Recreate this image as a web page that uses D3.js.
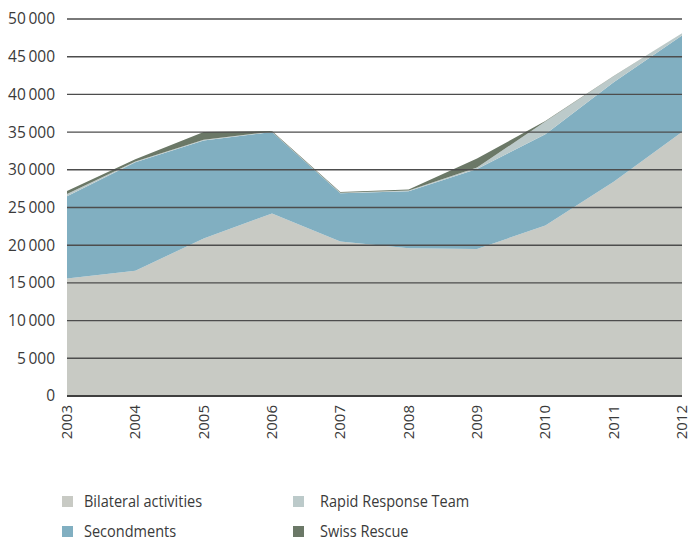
<!DOCTYPE html>
<html>
<head>
<meta charset="utf-8">
<script src="https://cdn.jsdelivr.net/npm/d3@7"></script>
<style>
  html, body { margin: 0; padding: 0; background: #fff; }
  svg { display: block; }
  text { font-family: "Open Sans", sans-serif; fill: #3a3a3a; }
</style>
</head>
<body>
<svg id="chart" width="690" height="541"></svg>
<script>
// Humanitarian aid staff days by activity, 2003–2012
const years = ["2003", "2004", "2005", "2006", "2007", "2008", "2009", "2010", "2011", "2012"];
const bilateral    = [15600, 16600, 20900, 24200, 20500, 19600, 19500, 22600, 28400, 35000];
const secondments  = [10900, 14400, 13000, 10800,  6400,  7550, 10600, 12100, 13200, 12800];
const rapidResponse = [ 300,   100,   100,    50,    50,   100,   200,  1700,   800,   300];
const swissRescue  = [  400,   300,  1000,   100,   100,   150,  1200,    60,    40,     0];
const yTicks = [0, 5000, 10000, 15000, 20000, 25000, 30000, 35000, 40000, 45000, 50000];

const seriesNames = ["Bilateral activities", "Secondments", "Rapid Response Team", "Swiss Rescue"];
const seriesColors = ["#c8cac4", "#81afc1", "#bccaca", "#6b7867"];

const rows = years.map((yr, i) => ({
  year: yr,
  "Bilateral activities": bilateral[i],
  "Secondments": secondments[i],
  "Rapid Response Team": rapidResponse[i],
  "Swiss Rescue": swissRescue[i]
}));

const svg = d3.select("#chart");
const x = d3.scalePoint().domain(years).range([67, 682]);
const y = d3.scaleLinear().domain([0, 50000]).range([396, 19]);

const layers = d3.stack().keys(seriesNames)(rows);

const area = d3.area()
  .x(d => x(d.data.year))
  .y0(d => y(d[0]))
  .y1(d => y(d[1]));

svg.append("g").selectAll("path")
  .data(layers)
  .join("path")
  .attr("d", area)
  .attr("fill", (d, i) => seriesColors[i]);

// value labels with a thin space as thousands separator
const fmt = d3.formatLocale({ decimal: ".", thousands: "\u2009", grouping: [3], currency: ["", ""] }).format(",d");

const yAxis = d3.axisLeft(y).tickValues(yTicks).tickSize(0).tickPadding(12).tickFormat(fmt);
const gy = svg.append("g").attr("transform", "translate(67,0)").call(yAxis);
gy.select(".domain").remove();
gy.selectAll(".tick text")
  .attr("font-size", 15.5).attr("fill", "#3a3a3a")
  .style("font-family", "'Open Sans', sans-serif")
  .attr("x", -12);

// horizontal grid drawn over the areas
svg.append("g").selectAll("line")
  .data(yTicks)
  .join("line")
  .attr("x1", 67).attr("x2", 682)
  .attr("y1", d => y(d)).attr("y2", d => y(d))
  .attr("stroke", d => d === 0 ? "#3f3f3f" : "#4d4d4d")
  .attr("stroke-width", d => d === 0 ? 2 : 1.4);

// rotated year labels
const xAxis = d3.axisBottom(x).tickSize(0).tickPadding(0);
const gx = svg.append("g").attr("transform", "translate(0,396)").call(xAxis);
gx.select(".domain").remove();
gx.selectAll(".tick text")
  .attr("transform", "rotate(-90)")
  .attr("text-anchor", "end")
  .attr("x", -9).attr("y", 0).attr("dy", "0.3em")
  .attr("font-size", 15).attr("fill", "#3a3a3a")
  .style("font-family", "'Open Sans', sans-serif");

// legend
const legendPos = [[62, 501], [62, 531], [293, 501], [293, 531]];
const legend = svg.append("g").selectAll("g")
  .data(seriesNames)
  .join("g")
  .attr("transform", (d, i) => `translate(${legendPos[i][0]},${legendPos[i][1]})`);
legend.append("rect").attr("x", 0).attr("y", -5).attr("width", 11).attr("height", 11)
  .attr("fill", (d, i) => seriesColors[i]);
legend.append("text")
  .attr("transform", (d, i) => `translate(${i < 2 ? 22 : 27},0) scale(0.88,1)`)
  .attr("y", 0).attr("dy", "0.35em")
  .attr("font-size", 16.5)
  .text(d => d);
</script>
</body>
</html>
